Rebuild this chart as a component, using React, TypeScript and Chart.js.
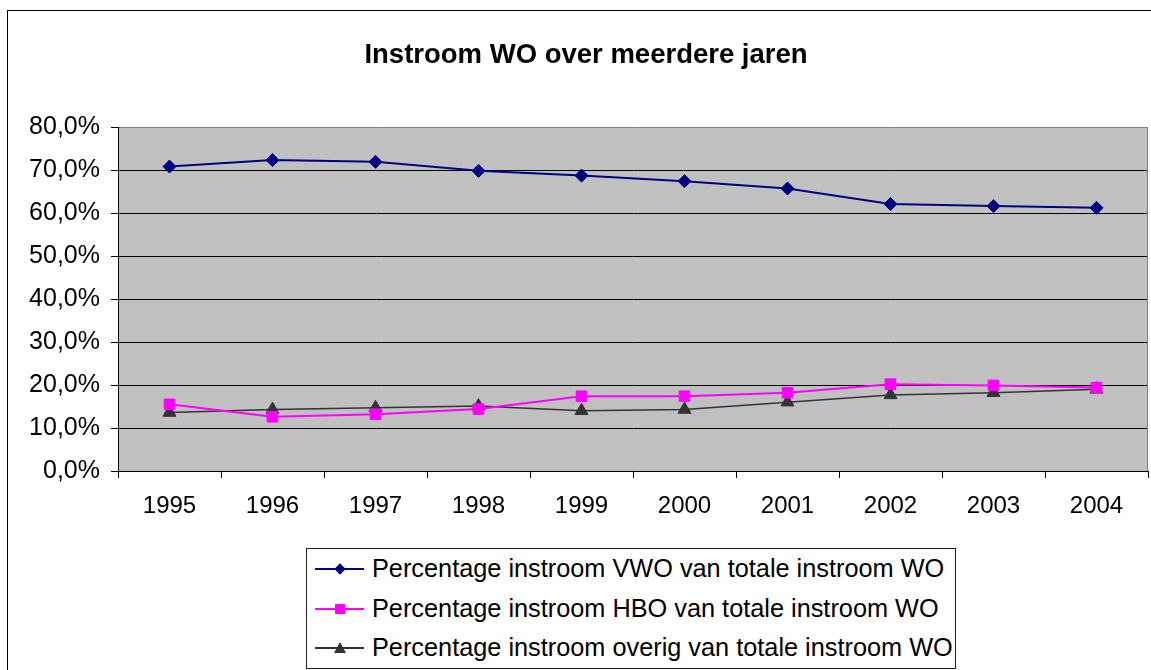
import React, { useEffect, useRef } from "react";
import { Chart, registerables } from "chart.js";

Chart.register(...registerables);

const titleText = "Instroom WO over meerdere jaren";
const years = ["1995", "1996", "1997", "1998", "1999", "2000", "2001", "2002", "2003", "2004"];
const vwoValues = [70.8, 72.3, 71.9, 69.8, 68.7, 67.4, 65.7, 62.1, 61.6, 61.2];
const hboValues = [15.5, 12.6, 13.2, 14.4, 17.4, 17.4, 18.2, 20.2, 19.9, 19.4];
const overigValues = [13.6, 14.3, 14.7, 15.1, 14.0, 14.3, 16.0, 17.7, 18.2, 19.0];
const seriesLabels = [
  "Percentage instroom VWO van totale instroom WO",
  "Percentage instroom HBO van totale instroom WO",
  "Percentage instroom overig van totale instroom WO",
];
const seriesColors = ["#000080", "#FF00FF", "#333333"];
const yMin = 0;
const yMax = 80;
const yStep = 10;

const FONT = "'Liberation Sans', Arial, Helvetica, sans-serif";

const plotBackground = {
  id: "plotBackground",
  beforeDraw(chart: any) {
    const { ctx, chartArea: a } = chart;
    ctx.save();
    ctx.fillStyle = "#c0c0c0";
    ctx.fillRect(a.left, a.top, a.right - a.left, a.bottom - a.top);
    ctx.restore();
  },
  beforeDatasetsDraw(chart: any) {
    const { ctx, chartArea: a } = chart;
    ctx.save();
    ctx.strokeStyle = "#808080";
    ctx.lineWidth = 1;
    ctx.beginPath();
    ctx.moveTo(Math.round(a.right) - 0.5, a.top);
    ctx.lineTo(Math.round(a.right) - 0.5, a.bottom);
    ctx.stroke();
    ctx.restore();
  },
};

function LegendMarker({ kind, color }: { kind: string; color: string }) {
  if (kind === "diamond") {
    return (
      <div
        style={{
          position: "absolute",
          left: 25 - 4,
          top: 16 - 4,
          width: 8,
          height: 8,
          background: color,
          transform: "rotate(45deg)",
        }}
      />
    );
  }
  if (kind === "square") {
    return (
      <div
        style={{
          position: "absolute",
          left: 25 - 5,
          top: 16 - 5,
          width: 10,
          height: 10,
          background: color,
        }}
      />
    );
  }
  return (
    <div
      style={{
        position: "absolute",
        left: 25 - 6,
        top: 16 - 6,
        width: 0,
        height: 0,
        borderLeft: "6px solid transparent",
        borderRight: "6px solid transparent",
        borderBottom: `11px solid ${color}`,
      }}
    />
  );
}

const markerKinds = ["diamond", "square", "triangle"];

export default function App() {
  const canvasRef = useRef<HTMLCanvasElement | null>(null);

  useEffect(() => {
    document.body.style.margin = "0";
    const canvas = canvasRef.current;
    if (!canvas) return;
    const datasetValues = [vwoValues, hboValues, overigValues];
    const pointStyles = ["rectRot", "rect", "triangle"];
    const pointRadii = [6.5, 7.5, 7.5];
    const chart = new Chart(canvas, {
      type: "line",
      data: {
        labels: years,
        datasets: datasetValues.map((vals, i) => ({
          label: seriesLabels[i],
          data: vals,
          borderColor: seriesColors[i],
          backgroundColor: seriesColors[i],
          pointBackgroundColor: seriesColors[i],
          pointBorderColor: seriesColors[i],
          pointBorderWidth: 1,
          pointStyle: pointStyles[i],
          pointRadius: pointRadii[i],
          borderWidth: i === 2 ? 1.5 : 2,
          tension: 0,
          fill: false,
        })),
      },
      plugins: [plotBackground],
      options: {
        animation: false,
        responsive: false,
        devicePixelRatio: 1,
        layout: { autoPadding: false, padding: { left: 24, right: 3, top: 0, bottom: 0 } },
        plugins: {
          legend: { display: false },
          tooltip: { enabled: false },
          title: {
            display: true,
            text: titleText,
            color: "#000",
            font: { family: FONT, size: 27.5, weight: "bold", lineHeight: 1.2 },
            padding: { top: 39, bottom: 55 },
          },
        },
        scales: {
          x: {
            type: "category",
            offset: true,
            afterFit(scale: any) {
              scale.height = 199;
              scale.paddingLeft = 0;
              scale.paddingRight = 0;
            },
            grid: {
              display: true,
              drawOnChartArea: false,
              drawTicks: true,
              tickLength: 7,
              offset: true,
              color: "#000",
              tickColor: "#000",
            },
            border: { display: true, color: "#000", width: 1 },
            ticks: {
              color: "#000",
              padding: 14,
              maxRotation: 0,
              autoSkip: false,
              font: { family: FONT, size: 24 },
            },
          },
          y: {
            min: yMin,
            max: yMax,
            afterFit(scale: any) {
              scale.width = 94;
            },
            grid: {
              color: (ctx: any) => (ctx.tick && ctx.tick.value === yMax ? "#808080" : "#000"),
              tickColor: "#000",
              lineWidth: 1,
              drawTicks: true,
              tickLength: 7,
            },
            border: { display: true, color: "#000", width: 1 },
            ticks: {
              stepSize: yStep,
              color: "#000",
              padding: 11,
              font: { family: FONT, size: 25 },
              callback: (v: any) => `${Number(v).toFixed(1).replace(".", ",")}%`,
            },
          },
        },
      },
    } as any);
    return () => chart.destroy();
  }, []);

  const rowTops = [4, 43.5, 83];

  return (
    <div
      style={{
        position: "fixed",
        left: 0,
        top: 0,
        width: 1151,
        height: 670,
        overflow: "hidden",
        background: "#fff",
      }}
    >
      <div
        style={{
          position: "absolute",
          left: 7,
          top: 10,
          width: 1160,
          height: 700,
          borderTop: "1px solid #000",
          borderLeft: "1px solid #000",
        }}
      />
      <canvas
        ref={canvasRef}
        width={1151}
        height={670}
        style={{ position: "absolute", left: 0, top: 0, width: 1151, height: 670, display: "block" }}
      />
      <div
        style={{
          position: "absolute",
          left: 306,
          top: 548,
          width: 650,
          height: 121,
          boxSizing: "border-box",
          border: "1px solid #222",
          background: "#fff",
          fontFamily: FONT,
          fontSize: 25.3,
          color: "#000",
        }}
      >
        {seriesLabels.map((lab, i) => (
          <div key={lab} style={{ position: "absolute", left: 8, top: rowTops[i], height: 30, width: 640 }}>
            <div
              style={{
                position: "absolute",
                left: 0,
                top: 15,
                width: 49,
                height: 2,
                background: seriesColors[i],
              }}
            />
            <LegendMarker kind={markerKinds[i]} color={seriesColors[i]} />
            <div
              style={{
                position: "absolute",
                left: 57,
                top: 0,
                lineHeight: "30px",
                whiteSpace: "nowrap",
              }}
            >
              {lab}
            </div>
          </div>
        ))}
      </div>
    </div>
  );
}
